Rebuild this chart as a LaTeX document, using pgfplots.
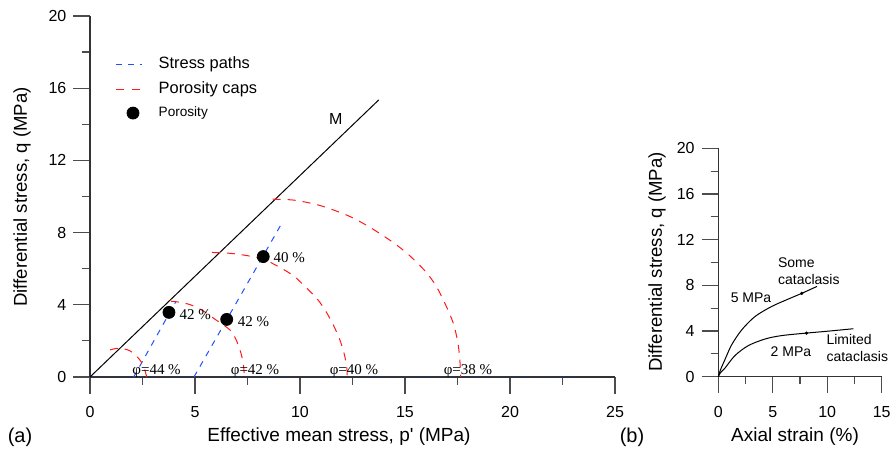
\documentclass[border=0pt]{standalone}
\usepackage{fontspec}
\setmainfont{Liberation Sans}
\newfontfamily\serif{Liberation Serif}
\usepackage{pgfplots}
\pgfplotsset{compat=1.18}

\definecolor{capred}{HTML}{FF1A1A}
\definecolor{pathblue}{HTML}{2050FF}
\definecolor{axnavy}{HTML}{27336B}

\pgfplotsset{
  panel/.style={
    scale only axis, clip=false,
    axis x line=bottom, axis y line=left,
    axis line style={-, black!80, line width=0.6pt},
    tick style={black!70, line width=0.6pt},
    tick align=outside,
    major tick length=8.3pt, minor tick length=3.8pt,
    minor x tick num=1, minor y tick num=1,
    tick label style={font=\fontsize{8}{9}\selectfont},
    xticklabel style={yshift=-3pt},
    /pgf/number format/assume math mode=true,
  },
  porecap/.style={capred, line width=0.5pt, dash pattern=on 4pt off 3.5pt, smooth},
  spath/.style={pathblue, line width=0.5pt, dash pattern=on 3pt off 3pt},
}

\begin{document}
\begin{tikzpicture}
% ---- (a) p'-q plane
\begin{axis}[panel,
  at={(0pt,0pt)}, anchor=south west,
  width=262.5pt, height=180.5pt,
  xmin=0, xmax=25, ymin=0, ymax=20,
  xtick={0,5,...,25}, ytick={0,4,...,20},
  legend style={draw=none, fill=none, at={(axis cs:0.9,18.2)}, anchor=north west,
    font=\fontsize{8.2}{9.5}\selectfont, row sep=1pt, cells={anchor=west},
    /tikz/every odd column/.append style={column sep=6pt}},
  legend image code/.code={\draw[#1] (0pt,0pt) -- (13pt,0pt);},
]
\addlegendimage{spath, line width=0.6pt}
\addlegendentry{Stress paths}
\addlegendimage{color=capred, line width=0.7pt, dash pattern=on 4pt off 4pt}
\addlegendentry{Porosity caps}
\addlegendimage{legend image code/.code={%
  \draw[mark=*, mark size=3pt, black] plot coordinates {(8.5pt,0pt)};}}
\addlegendentry{\fontsize{6.8}{8}\selectfont Porosity}

% isotropic path along the p' axis
\addplot[axnavy, line width=0.5pt, dash pattern=on 3pt off 3pt, forget plot]
  coordinates {(0,0) (23.2,0)};
% critical state line
\addplot[black, line width=0.5pt, forget plot] coordinates {(0,0) (13.75,15.35)};
% stress paths
\addplot[spath, forget plot] coordinates {(2.08,0) (4.10,4.20)};
\addplot[spath, forget plot] coordinates {(4.95,0) (9.15,8.55)};
% porosity caps
\addplot[porecap, forget plot] coordinates {
  (0.95,1.50) (1.40,1.60) (1.90,1.45) (2.30,1.05) (2.55,0.60) (2.70,0)};
\addplot[porecap, forget plot] coordinates {
  (3.85,4.20) (4.40,4.12) (4.90,3.95) (5.45,3.62) (5.95,3.20) (6.40,2.85)
  (6.75,2.50) (7.00,1.95) (7.18,1.35) (7.30,0.75) (7.35,0)};
\addplot[porecap, forget plot] coordinates {
  (5.80,6.90) (6.70,6.85) (7.60,6.70) (8.30,6.50) (9.00,6.10) (9.70,5.60)
  (10.25,5.00) (10.80,4.35) (11.20,3.70) (11.60,2.85) (11.90,2.05)
  (12.10,1.30) (12.22,0.60) (12.25,0)};
\addplot[porecap, forget plot] coordinates {
  (8.70,9.85) (9.70,9.80) (10.80,9.55) (11.60,9.25) (12.40,8.88) (13.10,8.45)
  (13.80,7.95) (14.50,7.40) (15.10,6.85) (15.60,6.30) (16.05,5.75)
  (16.45,5.10) (16.75,4.45) (17.05,3.70) (17.30,2.98) (17.45,2.30)
  (17.55,1.65) (17.62,0.80) (17.65,0)};
% porosity points
\addplot[only marks, mark=*, mark size=3pt, black, forget plot]
  coordinates {(3.76,3.58) (6.51,3.19) (8.25,6.67)};

\node[anchor=west, inner sep=0pt, font=\serif\fontsize{7.5}{9}\selectfont] at (axis cs:4.25,3.48) {42 \%};
\node[anchor=west, inner sep=0pt, font=\serif\fontsize{7.5}{9}\selectfont] at (axis cs:7.02,3.06) {42 \%};
\node[anchor=west, inner sep=0pt, font=\serif\fontsize{7.5}{9}\selectfont] at (axis cs:8.72,6.64) {40 \%};
\node[anchor=base, inner sep=0pt, font=\serif\fontsize{7.5}{9}\selectfont] at (axis cs:3.17,0.12) {φ=44 \%};
\node[anchor=base, inner sep=0pt, font=\serif\fontsize{7.5}{9}\selectfont] at (axis cs:7.86,0.12) {φ=42 \%};
\node[anchor=base, inner sep=0pt, font=\serif\fontsize{7.5}{9}\selectfont] at (axis cs:12.57,0.12) {φ=40 \%};
\node[anchor=base, inner sep=0pt, font=\serif\fontsize{7.5}{9}\selectfont] at (axis cs:18.0,0.12) {φ=38 \%};
\node[font=\fontsize{8}{9}\selectfont] at (axis cs:11.7,14.3) {M};
\end{axis}

% ---- (b) stress-strain curves
\begin{axis}[panel,
  at={(314.15pt,0.15pt)}, anchor=south west,
  width=81.7pt, height=114.2pt,
  xmin=0, xmax=15, ymin=0, ymax=20,
  xtick={0,5,10,15}, ytick={0,4,...,20},
]
\addplot[black, line width=0.5pt, smooth] coordinates {
  (0,0) (0.20,0.60) (0.61,1.50) (1.23,2.80) (2.15,4.10) (3.37,5.27)
  (4.90,6.15) (6.43,6.80) (7.66,7.30) (9.05,7.90)};
\addplot[black, line width=0.5pt, smooth] coordinates {
  (0,0) (0.20,0.35) (0.61,0.75) (1.53,1.85) (2.75,2.72) (4.29,3.30)
  (5.82,3.60) (8.10,3.82) (10.00,3.98) (12.40,4.20)};
% small markers on the curves
\addplot[only marks, mark=*, mark size=0.6pt, black] coordinates {(7.66,7.30) (8.10,3.82)};
\node[anchor=north west, inner sep=0pt, align=left, font=\fontsize{7}{8.5}\selectfont]
  at (axis cs:5.45,10.45) {Some\\cataclasis};
\node[font=\fontsize{7}{8.5}\selectfont] at (axis cs:3.0,6.9) {5 MPa};
\node[font=\fontsize{7}{8.5}\selectfont] at (axis cs:6.67,2.17) {2 MPa};
\node[anchor=north west, inner sep=0pt, align=left, font=\fontsize{7}{8.5}\selectfont]
  at (axis cs:9.9,3.7) {Limited\\cataclasis};
\end{axis}

% ---- labels
\node[font=\fontsize{9.5}{11}\selectfont] at (124.5pt,-30pt) {Effective mean stress, p\textquotesingle{} (MPa)};
\node[font=\fontsize{9.3}{11}\selectfont, rotate=90] at (-34pt,90pt) {Differential stress, q (MPa)};
\node[font=\fontsize{9.5}{11}\selectfont] at (352.5pt,-30pt) {Axial strain (\%)};
\node[font=\fontsize{9.3}{11}\selectfont, rotate=90] at (283.5pt,57.5pt) {Differential stress, q (MPa)};
\node[font=\fontsize{10}{12}\selectfont] at (-35pt,-30pt) {(a)};
\node[font=\fontsize{10}{12}\selectfont] at (271pt,-30pt) {(b)};

\pgfresetboundingbox
\useasboundingbox (-45pt,-38pt) rectangle (401.5pt,188.5pt);
\end{tikzpicture}
\end{document}
